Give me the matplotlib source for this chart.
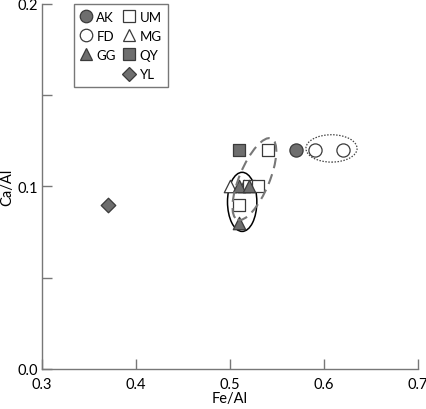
import matplotlib.pyplot as plt
import numpy as np
from matplotlib.patches import Ellipse
from matplotlib.lines import Line2D

plt.rcParams['font.family'] = ['Lato', 'DejaVu Sans']
plt.rcParams['font.size'] = 10.5

# data (Fe/Al, Ca/Al)
ak_x = [0.57]
ak_y = [0.12]
fd_x = [0.59, 0.62]
fd_y = [0.12, 0.12]
gg_x = [0.51, 0.52, 0.51]
gg_y = [0.10, 0.10, 0.08]
um_x = [0.54, 0.52, 0.53, 0.51]
um_y = [0.12, 0.10, 0.10, 0.09]
mg_x = [0.50, 0.515]
mg_y = [0.10, 0.10]
qy_x = [0.51]
qy_y = [0.12]
yl_x = [0.37]
yl_y = [0.09]

grey = '#6e6e6e'
edge = '#3a3a3a'

fig = plt.figure(figsize=(4.27, 4.10), dpi=100)
ax = fig.add_axes([0.098, 0.098, 0.881, 0.890])
ax.set_xlim(0.3, 0.7)
ax.set_ylim(0.0, 0.2)

ax.scatter(mg_x, mg_y, marker='^', s=80, facecolor='white', edgecolor=edge, lw=0.9, zorder=3)
ax.scatter(gg_x, gg_y, marker='^', s=80, facecolor=grey, edgecolor=edge, lw=0.9, zorder=4)
ax.scatter(um_x, um_y, marker='s', s=70, facecolor='white', edgecolor=edge, lw=0.9, zorder=3)
ax.scatter(qy_x, qy_y, marker='s', s=70, facecolor=grey, edgecolor=edge, lw=0.9, zorder=3)
ax.scatter(ak_x, ak_y, marker='o', s=90, facecolor=grey, edgecolor=edge, lw=0.9, zorder=3)
ax.scatter(fd_x, fd_y, marker='o', s=90, facecolor='white', edgecolor=edge, lw=0.9, zorder=3)
ax.scatter(yl_x, yl_y, marker='D', s=55, facecolor=grey, edgecolor=edge, lw=0.9, zorder=3)

# group outlines, drawn in axes fractions so the tilt looks right
def ring(cx, cy, w, h, ang, **kw):
    c = ax.transLimits.transform((cx, cy))
    ax.add_patch(Ellipse(c, w, h, angle=ang, transform=ax.transAxes,
                         fill=False, **kw))

ring(0.513, 0.0915, 0.078, 0.162, 0, ec='black', lw=1.1)
ring(0.526, 0.104, 0.08, 0.24, -22, ec='#777777', lw=1.5, ls=(0, (5, 3)), zorder=5)
ring(0.608, 0.1208, 0.136, 0.075, 0, ec='#444444', lw=0.9, ls=(0, (1.2, 1.2)))

ax.spines['top'].set_visible(False)
ax.spines['right'].set_visible(False)
for s in ('left', 'bottom'):
    ax.spines[s].set_color('#777777')
    ax.spines[s].set_linewidth(1.0)

ax.set_xticks([0.3, 0.4, 0.5, 0.6, 0.7])
ax.set_xticklabels(['0.3', '0.4', '0.5', '0.6', '0.7'])
ax.set_yticks([0.0, 0.1, 0.2])
ax.set_yticklabels(['0.0', '0.1', '0.2'])
ax.set_yticks([0.05, 0.15], minor=True)
ax.tick_params(axis='both', direction='in', length=7, width=1.0, color='#777777')
ax.tick_params(axis='x', pad=6)
ax.tick_params(axis='y', pad=3)
ax.tick_params(axis='y', which='minor', direction='in', length=7, width=1.0, color='#777777')
ax.set_xlabel('Fe/Al', labelpad=0)
ax.set_ylabel('Ca/Al', labelpad=2)

mk = dict(linestyle='none', markeredgecolor=edge, markeredgewidth=0.9)
handles = [
    Line2D([], [], marker='o', markersize=9, markerfacecolor=grey, **mk),
    Line2D([], [], marker='o', markersize=9, markerfacecolor='white', **mk),
    Line2D([], [], marker='^', markersize=9, markerfacecolor=grey, **mk),
    Line2D([], [], linestyle='none'),
    Line2D([], [], marker='s', markersize=8, markerfacecolor='white', **mk),
    Line2D([], [], marker='^', markersize=9, markerfacecolor='white', **mk),
    Line2D([], [], marker='s', markersize=8, markerfacecolor=grey, **mk),
    Line2D([], [], marker='D', markersize=7, markerfacecolor=grey, **mk),
]
labels = ['AK', 'FD', 'GG', '', 'UM', 'MG', 'QY', 'YL']
leg = ax.legend(handles, labels, ncol=2, loc='upper left', bbox_to_anchor=(0.085, 1.0),
                borderaxespad=0, frameon=True, fancybox=False, edgecolor='#555555',
                handlelength=0.8, handletextpad=0.4, columnspacing=0.6,
                labelspacing=0.55, borderpad=0.5, fontsize=9.5)
leg.get_frame().set_linewidth(1.0)

fig.savefig('out.png', dpi=100)
